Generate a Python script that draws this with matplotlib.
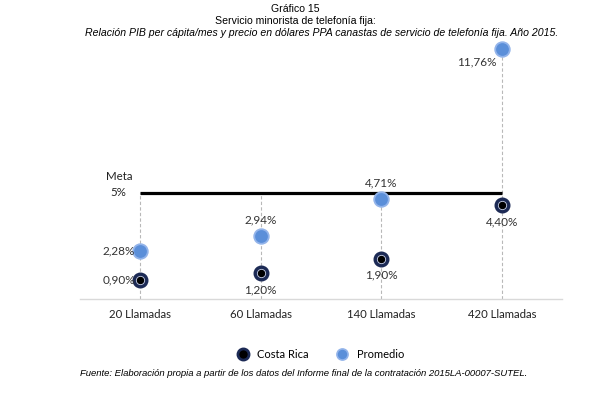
import matplotlib.pyplot as plt
from matplotlib.lines import Line2D

categorias = ['20 Llamadas', '60 Llamadas', '140 Llamadas', '420 Llamadas']
costa_rica = [0.90, 1.20, 1.90, 4.40]
promedio = [2.28, 2.94, 4.71, 11.76]
meta = 5.0

# where each label sits relative to its point
pos_cr = ['left', 'below', 'below', 'below']
pos_prom = ['left', 'above', 'above', 'lowleft']

NAVY = '#1c2a55'
AZUL = '#5b8fd9'
AZUL_BORDE = '#93b4ea'
LBL = 'Lato'

fig = plt.figure(figsize=(6.05, 3.94), dpi=100)
ax = fig.add_axes([80 / 605, 1 - 299 / 394, 482 / 605, 259.5 / 394])
x = list(range(len(categorias)))

# drop lines from the top of each category down to the axis
for i in x:
    top = max(meta, costa_rica[i], promedio[i])
    ax.vlines(i, 0, top, colors='#b8b8b8', linestyles=(0, (3, 2)), lw=0.8, zorder=1)

ax.hlines(meta, x[0], x[-1], colors='black', lw=2.3, zorder=2)
ax.text(-0.175, meta + 0.75, 'Meta', ha='center', va='center', fontsize=8.3,
        family=LBL, color='#222222')
ax.text(-0.185, meta, '5%', ha='center', va='center', fontsize=8.3,
        family=LBL, color='#222222')

ax.plot(x, promedio, 'o', ms=10.5, mfc=AZUL, mec=AZUL_BORDE, mew=1.3, ls='none', zorder=3)
ax.plot(x, costa_rica, 'o', ms=10.5, mfc=NAVY, mec=NAVY, ls='none', zorder=3)
ax.plot(x, costa_rica, 'o', ms=6, mfc='black', mec='#c8d0e8', mew=0.6, ls='none', zorder=4)


def etiqueta(i, v, donde):
    s = f'{v:.2f}%'.replace('.', ',')
    kw = dict(fontsize=8.5, family=LBL, color='#333333')
    if donde == 'left':
        ax.text(i - 0.045, v, s, ha='right', va='center', **kw)
    elif donde == 'lowleft':
        ax.text(i - 0.045, v - 0.6, s, ha='right', va='center', **kw)
    elif donde == 'below':
        ax.text(i, v - 0.5, s, ha='center', va='top', **kw)
    else:
        ax.text(i, v + 0.5, s, ha='center', va='bottom', **kw)


for i in x:
    etiqueta(i, costa_rica[i], pos_cr[i])
    etiqueta(i, promedio[i], pos_prom[i])

ax.set_xlim(-0.5, 3.5)
ax.set_ylim(0, 12.2)
ax.set_yticks([])
ax.set_xticks(x)
ax.set_xticklabels(categorias, fontsize=8.2, family=LBL, color='#222222')
ax.tick_params(axis='x', length=0, pad=7)
for s in ['top', 'left', 'right']:
    ax.spines[s].set_visible(False)
ax.spines['bottom'].set_color('#d9d9d9')
ax.spines['bottom'].set_linewidth(1.0)

handles = [
    Line2D([], [], marker='o', ls='none', ms=8, mfc='black', mec=NAVY, mew=2),
    Line2D([], [], marker='o', ls='none', ms=8, mfc=AZUL, mec=AZUL_BORDE, mew=1.2),
]
fig.legend(handles, ['Costa Rica', 'Promedio'], loc='center', bbox_to_anchor=(0.53, 1 - 354 / 394),
           ncol=2, frameon=False, prop={'family': LBL, 'size': 8}, handletextpad=0.8,
           columnspacing=2.5, handlelength=1.0)

fig.text(0.488, 1 - 9 / 394, 'Gráfico 15', ha='center', va='center', fontsize=7.6,
         family='Liberation Sans')
fig.text(0.488, 1 - 21 / 394, 'Servicio minorista de telefonía fija:', ha='center', va='center',
         fontsize=7.6, family='Liberation Sans')
fig.text(0.531, 1 - 33 / 394,
         'Relación PIB per cápita/mes y precio en dólares PPA canastas de servicio de telefonía fija. Año 2015.',
         ha='center', va='center', fontsize=7.6, style='italic', family='Liberation Sans')
fig.text(80 / 605, 1 - 373 / 394,
         'Fuente: Elaboración propia a partir de los datos del Informe final de la contratación 2015LA-00007-SUTEL.',
         ha='left', va='center', fontsize=6.8, style='italic', family='Liberation Sans')

fig.savefig('out.png', dpi=100)
